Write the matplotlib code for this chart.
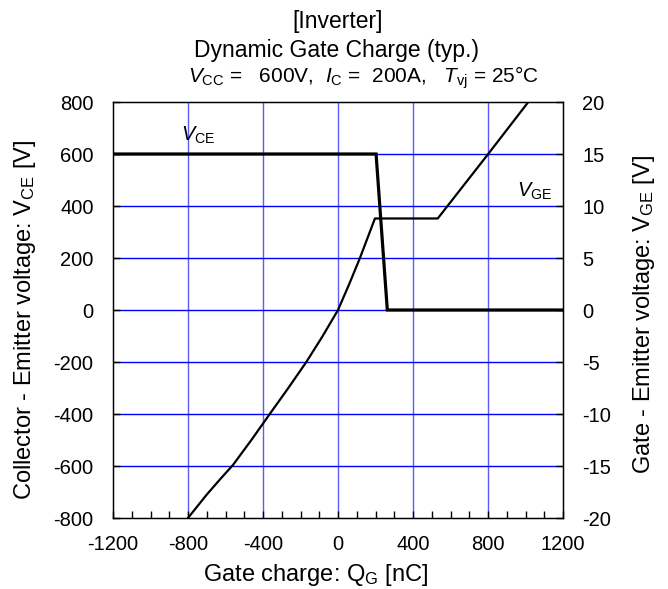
import numpy as np
import matplotlib
matplotlib.use("Agg")
import matplotlib.pyplot as plt
from matplotlib.ticker import MultipleLocator

plt.rcParams["font.family"] = ["Liberation Sans", "DejaVu Sans"]
plt.rcParams["mathtext.fontset"] = "custom"
plt.rcParams["mathtext.rm"] = "Liberation Sans"
plt.rcParams["mathtext.it"] = "Liberation Sans:italic"
plt.rcParams["axes.unicode_minus"] = False

# --- data ---
qg_vce = [-1200, 203, 263, 1200]          # nC
vce = [600, 600, 0, 0]                    # V
qg_vge = [-800, -700, -630, -560, -460, -364, -265, -169, -85, 0, 60, 117, 197, 532, 801, 1015]
vge = [-20, -17.75, -16.3, -14.9, -12.45, -10, -7.5, -5, -2.6, 0, 2.5, 5, 8.8, 8.8, 15, 20]

x_ticks = [-1200, -800, -400, 0, 400, 800, 1200]
left_ticks = list(range(-800, 801, 200))
right_ticks = list(range(-20, 21, 5))

fig = plt.figure(figsize=(6.68, 5.89), dpi=100)
ax = fig.add_axes([113 / 668, 1 - 518 / 589, 450 / 668, 416 / 589])
ax2 = ax.twinx()

# grid
for x in x_ticks[1:-1]:
    ax.axvline(x, color="#5a5aff", lw=1.0, zorder=1)
for y in left_ticks[1:-1]:
    ax.axhline(y, color="#0000ff", lw=1.0, zorder=1)

ax.plot(qg_vce, vce, color="black", lw=2.3, zorder=3, solid_joinstyle="miter")
ax2.plot(qg_vge, vge, color="black", lw=1.6, zorder=3)

ax.set_xlim(-1200, 1200)
ax.set_ylim(-800, 800)
ax2.set_ylim(-20, 20)

ax.set_xticks(x_ticks)
ax.xaxis.set_minor_locator(MultipleLocator(100))
ax.set_yticks(left_ticks)
ax2.set_yticks(right_ticks)

ax.tick_params(axis="x", which="both", direction="in", length=5, width=1,
               top=False, labelsize=14.5, pad=12)
ax.tick_params(axis="y", direction="in", length=5, width=1, labelsize=14.5, pad=14)
ax2.tick_params(axis="y", direction="in", length=5, width=1, labelsize=14.5, pad=14)

for s in ax.spines.values():
    s.set_color("black")
    s.set_linewidth(1.0)

ax.set_xlabel(r"Gate charge: $\mathrm{Q}_{\rm G}$ [nC]", fontsize=17, va="center")
ax.xaxis.set_label_coords(0.451, -0.137)
ax.set_ylabel(r"Collector - Emitter voltage: $\mathrm{V}_{\rm CE}$ [V]", fontsize=17,
              va="center")
ax.yaxis.set_label_coords(-0.196, 0.476)
ax2.set_ylabel(r"Gate - Emitter voltage: $\mathrm{V}_{\rm GE}$ [V]", fontsize=17,
               va="center")
ax2.yaxis.set_label_coords(1.18, 0.49)

ax.text(-835, 650, r"$V_{\rm CE}$", fontsize=14.5, ha="left", va="baseline")
ax.text(955, 436, r"$V_{\rm GE}$", fontsize=14.5, ha="left", va="baseline")

fig.text(338 / 668, 1 - 28 / 589, "[Inverter]", fontsize=16.5, ha="center", va="baseline")
fig.text(336 / 668, 1 - 57 / 589, "Dynamic Gate Charge (typ.)", fontsize=16.5,
         ha="center", va="baseline")
fig.text(363 / 668, 1 - 83 / 589,
         r"$V_{\rm CC}$ =   600V,  $I_{\rm C}$ =  200A,   $T_{\rm vj}$ = 25°C",
         fontsize=15, ha="center", va="baseline")

fig.savefig("out.png", dpi=100)
